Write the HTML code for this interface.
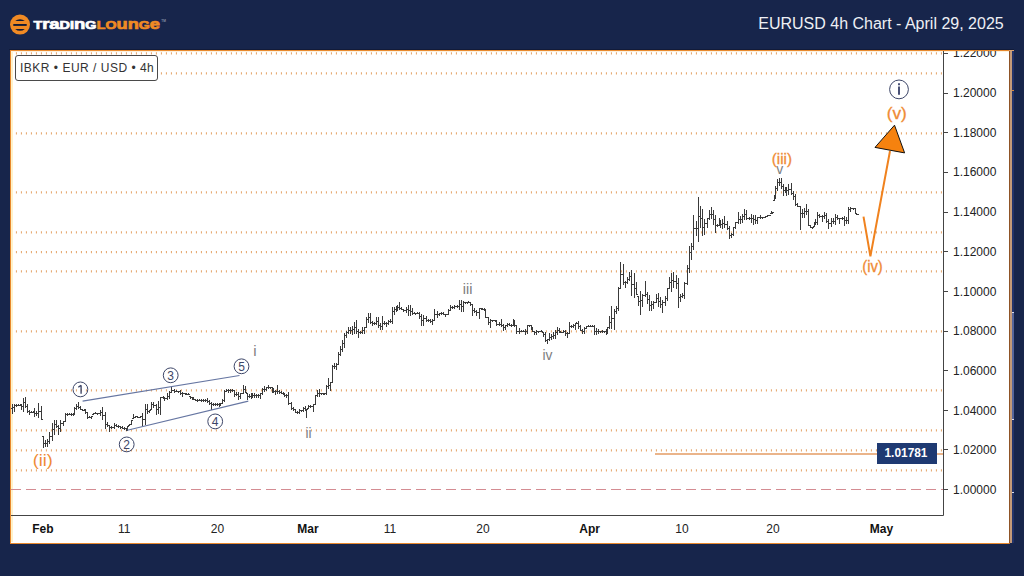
<!DOCTYPE html>
<html><head><meta charset="utf-8">
<style>
html,body{margin:0;padding:0;}
body{width:1024px;height:576px;overflow:hidden;background:#17254b;position:relative;font-family:"Liberation Sans",sans-serif;}
.title{position:absolute;left:0;top:14px;width:1003.7px;text-align:right;color:#eef0f5;font-size:16px;line-height:20px;white-space:nowrap;}
.frame{position:absolute;left:10px;top:50px;width:998px;height:492px;background:#fff;border:1px solid #e8892e;border-right:1.4px solid #8f5326;box-sizing:content-box;}
.rb{position:absolute;left:1010.4px;top:51px;width:1.8px;height:492px;background:#c49a78;}
.rs{position:absolute;left:1012.2px;top:51px;width:1.8px;height:492px;background:#22336a;}
.th{position:absolute;left:1012.2px;top:312.5px;width:1.8px;height:107px;background:#56669c;}
.tk{position:absolute;left:1012px;width:2px;height:1px;background:#dde;}
svg{position:absolute;left:0;top:0;}
.logo{position:absolute;left:33px;top:17px;font-weight:bold;font-size:11px;line-height:12px;white-space:nowrap;letter-spacing:0.2px;}
.lbl{position:absolute;left:15px;top:55px;width:141px;height:24px;border:1px solid #4a4a4a;background:#fff;border-radius:3px;box-sizing:content-box;font-size:12px;line-height:23px;color:#333;white-space:nowrap;}
.lbl span{position:absolute;left:4px;top:1px;letter-spacing:0.5px;}
.ax{position:absolute;left:953px;font-size:12px;color:#222;line-height:14px;white-space:nowrap;}
.xl{position:absolute;top:521.5px;font-size:12px;color:#222;line-height:14px;white-space:nowrap;transform:translateX(-50%);}
.xl.b{font-weight:bold;color:#111;}
.pl{position:absolute;left:877px;top:443px;width:60px;height:21px;background:#1f3a72;color:#fff;font-weight:bold;font-size:11.9px;line-height:20px;text-align:center;box-sizing:border-box;padding-right:2px;}
</style></head><body>
<div style="position:absolute;left:9px;top:49px;width:1005px;height:1px;background:#111b3a"></div><div class="frame"></div><div style="position:absolute;left:11px;top:51px;width:1.5px;height:491px;background:#fff1c8"></div><div style="position:absolute;left:11px;top:51px;width:998px;height:1px;background:#fdf1dc"></div><div class="rb"></div><div class="rs"></div><div class="th"></div><div class="tk" style="top:312px"></div><div class="tk" style="top:419px"></div><div class="tk" style="top:492px"></div><div class="tk" style="top:90px;background:#d88a40"></div><div style="position:absolute;left:1009px;top:50px;width:5px;height:1.2px;background:#d9a070"></div>
<div class="title">EURUSD 4h Chart - April 29, 2025</div>
<svg width="1024" height="576" viewBox="0 0 1024 576">
 <defs><clipPath id="cp"><rect x="11" y="51" width="999" height="491"/></clipPath></defs>
 <!-- logo icon -->
 <circle cx="20" cy="24.6" r="10" fill="#f08a24"/>
 <path d="M15.2 21.1h9.6a7 7 0 0 0-9.6 0z" fill="#131b36"/>
 <rect x="13.3" y="24" width="13.4" height="1.9" fill="#131b36"/>
 <path d="M15.2 28.9h9.6a7 7 0 0 1-9.6 0z" fill="#131b36"/>
 <g font-family="Liberation Sans" font-weight="bold" font-size="11.2">
  <text x="33.4" y="28.8" fill="#fff" stroke="#fff" stroke-width="0.7" textLength="63" lengthAdjust="spacingAndGlyphs">T<tspan font-size="14.4">ra</tspan>DI<tspan font-size="14.4">n</tspan>G</text>
  <text x="96.8" y="28.8" fill="#f08a24" stroke="#f08a24" stroke-width="0.7" textLength="63.2" lengthAdjust="spacingAndGlyphs">LO<tspan font-size="14.4">un</tspan>G<tspan font-size="14.4">e</tspan></text>
  <text x="161.3" y="22.3" fill="#b9bccb" font-size="3.2" font-weight="normal">TM</text>
 </g>
 <g clip-path="url(#cp)">
 <!-- dotted grid -->
 <g class="grid" stroke="#e4a468" stroke-width="2.2" stroke-dasharray="1 4" fill="none">
  <path d="M15.9 53.4H943M15.9 73.4H943M15.9 133.4H943M15.9 192.3H943M15.9 232.3H943M15.9 252.2H943M15.9 271.4H943M15.9 331.3H943M15.9 390.4H943M15.9 430.3H943M15.9 450.3H943M15.9 470.3H943"/>
 </g>
 <path class="grid" d="M11 489.5H943" stroke="#d48c92" stroke-width="1.2" stroke-dasharray="10 5" fill="none"/>
 <!-- axes -->
 <path d="M943.5 50V515.5H11" stroke="#444" stroke-width="1" fill="none"/>
 <path d="M943.5 53.5h4.5M943.5 93.5h4.5M943.5 132.5h4.5M943.5 172.5h4.5M943.5 212.5h4.5M943.5 251.5h4.5M943.5 291.5h4.5M943.5 331.5h4.5M943.5 370.5h4.5M943.5 410.5h4.5M943.5 449.5h4.5M943.5 489.5h4.5" stroke="#444" stroke-width="1"/>
 <!-- support line -->
 <path class="grid" d="M655 454H943" stroke="#eab48a" stroke-width="2"/>
 <!-- bars -->
 <path class="grid" d="M12.5 404V414M11 408.5H12M13 407.5H14M14.5 404V412M13 407.5H14M15 405.5H16M16.5 404V407M15 405.5H16M17 405.5H18M18.5 404V406M17 405.5H18M19 405.5H20M20.5 404V406M19 405.5H20M21 405.5H22M21.5 404V410M20 405.5H21M22 406.5H23M23.5 398V412M22 406.5H23M24 402.5H25M25.5 397V408M24 402.5H25M26 406.5H27M27.5 404V413M26 406.5H27M28 411.5H29M29.5 410V415M28 411.5H29M30 412.5H31M31.5 411V413M30 412.5H31M32 412.5H33M33.5 411V413M32 412.5H33M34 412.5H35M34.5 408V417M33 412.5H34M35 413.5H36M36.5 411V416M35 413.5H36M37 413.5H38M38.5 403V418M37 413.5H38M39 411.5H40M41.5 406V420M40 411.5H41M42 419.5H43M43.5 436V448M42 436.5H43M44 443.5H45M45.5 440V447M44 443.5H45M46 443.5H47M47.5 439V447M46 443.5H47M48 441.5H49M49.5 432V444M48 441.5H49M50 436.5H51M52.5 423V441M51 436.5H52M53 429.5H54M54.5 420V435M53 429.5H54M55 424.5H56M56.5 420V428M55 424.5H56M57 426.5H58M58.5 425V435M57 426.5H58M59 428.5H60M60.5 420V432M59 428.5H60M61 423.5H62M63.5 421V426M62 423.5H63M64 421.5H65M65.5 413V422M64 421.5H65M66 414.5H67M67.5 413V416M66 414.5H67M68 414.5H69M69.5 413V415M68 414.5H69M70 414.5H71M71.5 413V416M70 414.5H71M72 414.5H73M73.5 413V416M72 414.5H73M74 414.5H75M74.5 407V415M73 414.5H74M75 408.5H76M76.5 404V410M75 408.5H76M77 406.5H78M78.5 402V409M77 406.5H78M79 407.5H80M80.5 406V410M79 407.5H80M81 409.5H82M82.5 409V411M81 409.5H82M83 410.5H84M84.5 409V411M83 410.5H84M85 410.5H86M85.5 409V414M84 410.5H85M86 412.5H87M87.5 412V419M86 412.5H87M88 417.5H89M89.5 416V418M88 417.5H89M90 417.5H91M91.5 416V419M90 417.5H91M92 416.5H93M93.5 413V415M92 414.5H93M94 413.5H95M95.5 412V414M94 413.5H95M96 413.5H97M97.5 413V415M96 413.5H97M98 413.5H99M100.5 410V416M99 413.5H100M101 412.5H102M102.5 407V420M101 412.5H102M103 415.5H104M105.5 412V429M104 415.5H105M106 424.5H107M107.5 422V427M106 424.5H107M108 425.5H109M109.5 425V432M108 425.5H109M110 427.5H111M111.5 426V429M110 427.5H111M112 427.5H113M114.5 423V429M113 427.5H114M115 425.5H116M116.5 424V427M115 425.5H116M117 426.5H118M118.5 425V428M117 426.5H118M119 426.5H120M120.5 426V429M119 426.5H120M121 427.5H122M122.5 426V429M121 427.5H122M123 428.5H124M124.5 427V430M123 428.5H124M125 428.5H126M126.5 428V431M125 428.5H126M127 429.5H128M127.5 426V431M126 429.5H127M128 426.5H129M129.5 424V426M128 425.5H129M130 424.5H131M131.5 420V425M130 424.5H131M132 420.5H133M133.5 414V419M132 418.5H133M134 417.5H135M135.5 416V418M134 417.5H135M136 416.5H137M137.5 416V418M136 416.5H137M138 417.5H139M140.5 416V418M139 417.5H140M141 416.5H142M142.5 413V426M141 416.5H142M143 419.5H144M145.5 404V425M144 419.5H145M146 409.5H147M147.5 404V414M146 409.5H147M148 411.5H149M149.5 410V413M148 411.5H149M150 410.5H151M151.5 402V410M150 409.5H151M152 404.5H153M153.5 402V408M152 404.5H153M154 405.5H155M156.5 404V415M155 405.5H156M157 409.5H158M158.5 401V414M157 409.5H158M159 407.5H160M160.5 397V415M159 407.5H160M161 397.5H162M163.5 396V399M162 397.5H163M164 398.5H165M164.5 397V401M163 398.5H164M165 398.5H166M167.5 393V400M166 398.5H167M168 396.5H169M169.5 391V399M168 396.5H169M170 392.5H171M171.5 387V393M170 392.5H171M172 390.5H173M174.5 389V393M173 390.5H174M175 391.5H176M176.5 390V392M175 391.5H176M177 391.5H178M178.5 391V393M177 391.5H178M179 391.5H180M180.5 390V395M179 391.5H180M181 393.5H182M182.5 392V397M181 393.5H182M183 393.5H184M185.5 393V395M184 393.5H185M186 394.5H187M186.5 393V395M185 394.5H186M187 394.5H188M188.5 393V395M187 394.5H188M189 394.5H190M190.5 396V399M189 396.5H190M191 397.5H192M192.5 397V400M191 397.5H192M193 398.5H194M193.5 397V400M192 398.5H193M194 399.5H195M195.5 399V401M194 399.5H195M196 400.5H197M197.5 399V402M196 400.5H197M198 400.5H199M199.5 399V401M198 400.5H199M200 400.5H201M201.5 399V402M200 400.5H201M202 400.5H203M203.5 399V402M202 400.5H203M204 400.5H205M205.5 399V402M204 400.5H205M206 400.5H207M207.5 398V403M206 400.5H207M208 401.5H209M209.5 400V405M208 401.5H209M210 403.5H211M211.5 402V410M210 403.5H211M212 404.5H213M213.5 403V406M212 404.5H213M214 404.5H215M215.5 403V406M214 404.5H215M216 404.5H217M217.5 403V406M216 404.5H217M218 404.5H219M219.5 403V407M218 404.5H219M220 404.5H221M220.5 403V406M219 404.5H220M221 403.5H222M222.5 399V404M221 403.5H222M223 400.5H224M224.5 390V402M223 400.5H224M225 391.5H226M226.5 389V392M225 391.5H226M227 390.5H228M228.5 389V393M227 390.5H228M229 390.5H230M230.5 389V393M229 390.5H230M231 390.5H232M232.5 389V392M231 390.5H232M233 390.5H234M234.5 390V397M233 390.5H234M235 394.5H236M236.5 392V396M235 394.5H236M237 394.5H238M238.5 392V400M237 394.5H238M239 396.5H240M240.5 393V399M239 396.5H240M241 393.5H242M243.5 385V394M242 393.5H243M244 389.5H245M245.5 386V393M244 389.5H245M246 392.5H247M247.5 393V400M246 393.5H247M248 396.5H249M249.5 394V398M248 396.5H249M250 396.5H251M251.5 393V399M250 396.5H251M252 395.5H253M252.5 393V398M251 395.5H252M253 395.5H254M254.5 393V398M253 395.5H254M255 395.5H256M256.5 394V398M255 395.5H256M257 395.5H258M258.5 394V398M257 395.5H258M259 395.5H260M260.5 393V399M259 395.5H260M261 393.5H262M262.5 388V395M261 393.5H262M263 389.5H264M264.5 386V392M263 389.5H264M265 389.5H266M266.5 387V391M265 389.5H266M267 387.5H268M268.5 385V389M267 387.5H268M269 387.5H270M270.5 387V389M269 387.5H270M271 387.5H272M272.5 387V393M271 387.5H272M273 390.5H274M273.5 388V393M272 390.5H273M274 391.5H275M275.5 390V395M274 391.5H275M276 391.5H277M277.5 385V394M276 391.5H277M278 391.5H279M279.5 390V394M278 391.5H279M280 392.5H281M281.5 391V394M280 392.5H281M282 393.5H283M283.5 392V395M282 393.5H283M284 394.5H285M284.5 393V397M283 394.5H284M285 395.5H286M286.5 394V398M285 395.5H286M287 395.5H288M288.5 392V405M287 395.5H288M289 403.5H290M291.5 402V410M290 403.5H291M292 408.5H293M293.5 407V411M292 408.5H293M294 409.5H295M295.5 409V413M294 409.5H295M296 412.5H297M297.5 411V414M296 412.5H297M298 412.5H299M299.5 409V414M298 412.5H299M300 410.5H301M301.5 410V412M300 410.5H301M302 410.5H303M303.5 407V412M302 410.5H303M304 408.5H305M305.5 406V411M304 408.5H305M306 410.5H307M306.5 409V418M305 410.5H306M307 409.5H308M308.5 405V409M307 408.5H308M309 406.5H310M310.5 405V408M309 406.5H310M311 406.5H312M313.5 404V412M312 406.5H313M314 404.5H315M315.5 395V405M314 404.5H315M316 395.5H317M317.5 390V397M316 395.5H317M318 393.5H319M319.5 389V397M318 393.5H319M320 393.5H321M321.5 393V395M320 393.5H321M322 393.5H323M323.5 393V395M322 393.5H323M324 393.5H325M324.5 393V395M323 393.5H324M325 393.5H326M326.5 385V395M325 393.5H326M327 386.5H328M328.5 378V389M327 386.5H328M329 385.5H330M330.5 382V391M329 385.5H330M331 382.5H332M332.5 365V383M331 382.5H332M333 366.5H334M334.5 363V369M333 366.5H334M335 366.5H336M336.5 363V370M335 366.5H336M337 364.5H338M338.5 352V365M337 364.5H338M339 354.5H340M340.5 346V356M339 354.5H340M341 349.5H342M342.5 340V352M341 349.5H342M343 343.5H344M344.5 333V348M343 343.5H344M345 335.5H346M346.5 331V338M345 335.5H346M347 332.5H348M348.5 327V334M347 332.5H348M349 330.5H350M350.5 327V334M349 330.5H350M351 330.5H352M352.5 326V335M351 330.5H352M353 329.5H354M354.5 322V334M353 329.5H354M355 327.5H356M356.5 320V334M355 327.5H356M357 331.5H358M358.5 329V338M357 331.5H358M359 332.5H360M360.5 331V334M359 332.5H360M361 332.5H362M362.5 327V334M361 332.5H362M363 330.5H364M364.5 327V334M363 330.5H364M365 327.5H366M366.5 317V328M365 327.5H366M367 319.5H368M368.5 313V323M367 319.5H368M369 317.5H370M370.5 313V324M369 317.5H370M371 322.5H372M372.5 321V326M371 322.5H372M373 323.5H374M374.5 322V325M373 323.5H374M375 323.5H376M376.5 317V325M375 323.5H376M377 321.5H378M378.5 317V328M377 321.5H378M379 325.5H380M380.5 323V330M379 325.5H380M381 326.5H382M382.5 316V330M381 326.5H382M383 323.5H384M384.5 321V325M383 323.5H384M385 323.5H386M386.5 322V327M385 323.5H386M387 323.5H388M388.5 320V325M387 323.5H388M389 321.5H390M390.5 319V323M389 321.5H390M391 321.5H392M392.5 307V324M391 321.5H392M393 311.5H394M394.5 307V315M393 311.5H394M395 309.5H396M396.5 306V312M395 309.5H396M397 308.5H398M397.5 305V311M396 308.5H397M398 307.5H399M399.5 302V310M398 307.5H399M400 308.5H401M401.5 307V310M400 308.5H401M402 309.5H403M403.5 309V312M402 309.5H403M404 310.5H405M406.5 307V313M405 310.5H406M407 309.5H408M408.5 305V316M407 309.5H408M409 310.5H410M410.5 305V316M409 310.5H410M411 311.5H412M412.5 308V315M411 311.5H412M413 313.5H414M414.5 312V314M413 313.5H414M415 313.5H416M415.5 313V315M414 313.5H415M416 313.5H417M417.5 312V314M416 313.5H417M418 313.5H419M419.5 312V319M418 313.5H419M420 316.5H421M421.5 314V326M420 316.5H421M422 320.5H423M423.5 315V326M422 320.5H423M424 318.5H425M426.5 316V322M425 318.5H426M427 320.5H428M428.5 319V322M427 320.5H428M429 320.5H430M430.5 319V323M429 320.5H430M431 321.5H432M432.5 319V325M431 321.5H432M433 320.5H434M434.5 309V321M433 320.5H434M435 314.5H436M437.5 311V318M436 314.5H437M438 314.5H439M439.5 313V316M438 314.5H439M440 313.5H441M441.5 312V315M440 313.5H441M442 313.5H443M443.5 312V315M442 313.5H443M444 314.5H445M445.5 314V317M444 314.5H445M446 314.5H447M448.5 309V315M447 314.5H448M449 310.5H450M450.5 305V311M449 310.5H450M451 307.5H452M452.5 306V309M451 307.5H452M453 307.5H454M454.5 305V309M453 307.5H454M455 306.5H456M457.5 305V308M456 306.5H457M458 306.5H459M459.5 300V310M458 306.5H459M460 304.5H461M461.5 300V312M460 304.5H461M462 306.5H463M463.5 301V312M462 306.5H463M464 302.5H465M465.5 302V304M464 302.5H465M466 302.5H467M467.5 302V304M466 302.5H467M468 302.5H469M468.5 301V303M467 302.5H468M469 302.5H470M470.5 302V306M469 302.5H470M471 304.5H472M472.5 304V316M471 304.5H472M473 310.5H474M474.5 308V313M473 310.5H474M475 311.5H476M476.5 310V316M475 311.5H476M477 312.5H478M479.5 308V319M478 312.5H479M480 308.5H481M481.5 308V310M480 308.5H481M482 309.5H483M482.5 308V310M481 309.5H482M483 309.5H484M484.5 308V310M483 309.5H484M485 309.5H486M485.5 310V318M484 310.5H485M486 317.5H487M488.5 317V325M487 317.5H488M489 322.5H490M490.5 319V328M489 322.5H490M491 320.5H492M492.5 320V322M491 320.5H492M493 320.5H494M495.5 320V322M494 320.5H495M496 321.5H497M496.5 320V326M495 321.5H496M497 324.5H498M499.5 322V326M498 324.5H499M500 324.5H501M501.5 319V327M500 324.5H501M502 325.5H503M503.5 324V331M502 325.5H503M504 327.5H505M505.5 325V330M504 327.5H505M506 325.5H507M507.5 323V327M506 325.5H507M508 324.5H509M509.5 323V326M508 324.5H509M510 325.5H511M511.5 324V327M510 325.5H511M512 325.5H513M513.5 319V326M512 325.5H513M514 323.5H515M514.5 320V327M513 323.5H514M515 325.5H516M516.5 325V334M515 325.5H516M517 331.5H518M519.5 328V334M518 331.5H519M520 331.5H521M521.5 330V332M520 331.5H521M522 331.5H523M523.5 330V332M522 331.5H523M524 331.5H525M525.5 329V335M524 331.5H525M526 331.5H527M527.5 325V334M526 331.5H527M528 325.5H529M529.5 325V327M528 325.5H529M530 325.5H531M531.5 325V330M530 325.5H531M532 328.5H533M532.5 327V332M531 328.5H532M533 331.5H534M534.5 331V335M533 331.5H534M535 332.5H536M536.5 330V335M535 332.5H536M537 331.5H538M538.5 331V333M537 331.5H538M539 331.5H540M541.5 330V332M540 331.5H541M542 331.5H543M543.5 332V337M542 332.5H543M544 334.5H545M545.5 332V342M544 334.5H545M546 340.5H547M547.5 339V344M546 340.5H547M548 339.5H549M549.5 333V341M548 339.5H549M550 337.5H551M551.5 334V340M550 337.5H551M552 336.5H553M553.5 332V339M552 336.5H553M554 335.5H555M555.5 330V339M554 335.5H555M556 332.5H557M557.5 327V335M556 332.5H557M558 330.5H559M559.5 328V333M558 330.5H559M560 332.5H561M560.5 331V333M559 332.5H560M561 332.5H562M563.5 330V333M562 332.5H563M564 331.5H565M565.5 330V336M564 331.5H565M566 333.5H567M567.5 332V338M566 333.5H567M568 333.5H569M569.5 322V334M568 333.5H569M570 326.5H571M571.5 325V328M570 326.5H571M572 326.5H573M573.5 324V328M572 326.5H573M574 325.5H575M575.5 323V330M574 325.5H575M576 323.5H577M576.5 322V324M575 323.5H576M577 323.5H578M578.5 321V329M577 323.5H578M579 326.5H580M580.5 325V331M579 326.5H580M581 330.5H582M582.5 329V334M581 330.5H582M583 331.5H584M584.5 327V334M583 331.5H584M585 328.5H586M586.5 326V329M585 328.5H586M587 326.5H588M588.5 325V327M587 326.5H588M589 326.5H590M590.5 325V327M589 326.5H590M591 326.5H592M592.5 325V327M591 326.5H592M593 326.5H594M594.5 325V335M593 326.5H594M595 331.5H596M596.5 328V335M595 331.5H596M597 331.5H598M598.5 329V334M597 331.5H598M599 331.5H600M600.5 331V333M599 331.5H600M601 331.5H602M602.5 330V333M601 331.5H602M603 331.5H604M604.5 331V333M603 331.5H604M605 331.5H606M606.5 329V335M605 331.5H606M607 331.5H608M607.5 327V334M606 331.5H607M608 327.5H609M609.5 316V329M608 327.5H609M610 322.5H611M611.5 306V329M610 322.5H611M612 318.5H613M614.5 309V330M613 318.5H614M615 311.5H616M616.5 306V314M615 311.5H616M617 308.5H618M618.5 287V311M617 308.5H618M619 288.5H620M620.5 262V289M619 288.5H620M621 274.5H622M623.5 264V285M622 274.5H623M624 282.5H625M625.5 281V288M624 282.5H625M626 282.5H627M627.5 277V284M626 282.5H627M628 279.5H629M629.5 272V281M628 279.5H629M630 276.5H631M631.5 270V296M630 276.5H631M632 284.5H633M634.5 273V298M633 284.5H634M635 288.5H636M636.5 282V295M635 288.5H636M637 294.5H638M638.5 296V306M637 296.5H638M639 301.5H640M640.5 291V315M639 301.5H640M641 300.5H642M642.5 294V307M641 300.5H642M643 295.5H644M645.5 281V297M644 295.5H645M646 294.5H647M647.5 292V304M646 294.5H647M648 299.5H649M649.5 295V311M648 299.5H649M650 305.5H651M651.5 301V311M650 305.5H651M652 304.5H653M653.5 301V309M652 304.5H653M654 302.5H655M656.5 294V303M655 302.5H656M657 298.5H658M658.5 293V307M657 298.5H658M659 301.5H660M660.5 297V308M659 301.5H660M661 304.5H662M662.5 300V313M661 304.5H662M663 302.5H664M665.5 296V306M664 302.5H665M666 298.5H667M667.5 288V301M666 298.5H667M668 288.5H669M669.5 277V289M668 288.5H669M670 282.5H671M671.5 273V292M670 282.5H671M672 280.5H673M673.5 272V288M672 280.5H673M674 281.5H675M676.5 275V289M675 281.5H676M677 283.5H678M678.5 278V308M677 283.5H678M679 297.5H680M680.5 294V302M679 297.5H680M681 296.5H682M682.5 293V298M681 296.5H682M683 295.5H684M684.5 282V299M683 295.5H684M685 283.5H686M687.5 265V285M686 283.5H687M688 268.5H689M689.5 246V273M688 268.5H689M690 252.5H691M691.5 243V260M690 252.5H691M692 246.5H693M693.5 215V250M692 246.5H693M694 228.5H695M696.5 221V236M695 228.5H696M697 228.5H698M698.5 197V242M697 228.5H698M699 216.5H700M700.5 206V228M699 216.5H700M701 218.5H702M702.5 209V236M701 218.5H702M703 227.5H704M704.5 219V235M703 227.5H704M705 223.5H706M707.5 218V228M706 223.5H707M708 218.5H709M709.5 210V220M708 218.5H709M710 214.5H711M711.5 207V219M710 214.5H711M712 214.5H713M713.5 210V225M712 214.5H713M714 219.5H715M715.5 215V233M714 219.5H715M716 225.5H717M717.5 224V227M716 225.5H717M718 225.5H719M719.5 218V226M718 225.5H719M720 223.5H721M720.5 220V228M719 223.5H720M721 224.5H722M722.5 219V229M721 224.5H722M723 223.5H724M724.5 216V228M723 223.5H724M725 224.5H726M727.5 221V230M726 224.5H727M728 228.5H729M729.5 226V239M728 228.5H729M730 235.5H731M731.5 233V238M730 235.5H731M732 234.5H733M733.5 227V236M732 234.5H733M734 227.5H735M735.5 222V229M734 227.5H735M736 222.5H737M738.5 212V224M737 222.5H738M739 219.5H740M740.5 216V224M739 219.5H740M741 219.5H742M742.5 214V223M741 219.5H742M743 216.5H744M744.5 209V220M743 216.5H744M745 214.5H746M746.5 210V220M745 214.5H746M747 218.5H748M749.5 217V220M748 218.5H749M750 218.5H751M751.5 214V223M750 218.5H751M752 218.5H753M753.5 215V225M752 218.5H753M754 219.5H755M755.5 215V224M754 219.5H755M756 220.5H757M757.5 217V224M756 220.5H757M758 217.5H759M760.5 215V219M759 217.5H760M761 217.5H762M762.5 217V219M761 217.5H762M763 217.5H764M765.5 216V218M764 217.5H765M766 216.5H767M767.5 215V217M766 216.5H767M768 215.5H769M769.5 215V216M768 215.5H769M770 215.5H771M771.5 211V214M770 213.5H771M772 212.5H773M772.5 212V214M771 212.5H772M773 212.5H774M774.5 195V201M773 200.5H774M775 196.5H776M775.5 186V199M774 196.5H775M776 188.5H777M777.5 179V191M776 188.5H777M778 182.5H779M779.5 178V186M778 182.5H779M780 182.5H781M781.5 178V189M780 182.5H781M782 186.5H783M783.5 184V196M782 186.5H783M784 190.5H785M785.5 187V193M784 190.5H785M786 190.5H787M786.5 187V196M785 190.5H786M787 190.5H788M788.5 184V195M787 190.5H788M789 189.5H790M791.5 183V195M790 189.5H791M792 193.5H793M793.5 191V200M792 193.5H793M794 196.5H795M795.5 194V206M794 196.5H795M796 204.5H797M797.5 203V207M796 204.5H797M798 206.5H799M800.5 206V230M799 206.5H800M801 213.5H802M802.5 209V218M801 213.5H802M803 213.5H804M804.5 208V218M803 213.5H804M805 211.5H806M806.5 204V215M805 211.5H806M807 211.5H808M808.5 209V226M807 211.5H808M809 225.5H810M810.5 225V228M809 225.5H810M811 227.5H812M812.5 227V229M811 227.5H812M813 227.5H814M814.5 222V227M813 226.5H814M815 223.5H816M815.5 219V225M814 223.5H815M816 222.5H817M817.5 212V225M816 222.5H817M818 215.5H819M819.5 214V218M818 215.5H819M820 216.5H821M822.5 215V222M821 216.5H822M823 216.5H824M824.5 212V219M823 216.5H824M825 215.5H826M826.5 213V223M825 215.5H826M827 221.5H828M828.5 219V229M827 221.5H828M829 223.5H830M831.5 218V227M830 223.5H831M832 221.5H833M833.5 218V224M832 221.5H833M834 221.5H835M835.5 214V225M834 221.5H835M836 217.5H837M837.5 215V220M836 217.5H837M838 218.5H839M839.5 218V224M838 218.5H839M840 218.5H841M842.5 217V220M841 218.5H842M843 218.5H844M844.5 216V226M843 218.5H844M845 220.5H846M846.5 217V224M845 220.5H846M847 220.5H848M848.5 207V224M847 220.5H848M849 209.5H850M850.5 207V212M849 209.5H850M851 208.5H852M853.5 208V210M852 208.5H853M854 208.5H855M855.5 208V214M854 208.5H855M856 213.5H857M857.5 214V215M856 214.5H857M858 214.5H859" stroke="#3a3a3a" stroke-width="1" fill="none"/>
 <!-- channel lines -->
 <path d="M82.6 401.1L239.5 375.5M127.3 430.2L248.3 401.1" stroke="#6676a2" stroke-width="1.1" fill="none"/>
 <path d="M898 86.4h2v8.4h-2zM898 83.3h2v1.9h-2z" fill="#4a5277"/>
 <path d="M81.1 385.2V393.8M78.3 387.3L81.1 385.2" stroke="#3d4668" stroke-width="1.35" fill="none"/>
 <!-- circles -->
 <g fill="none" stroke="#3d4668" stroke-width="1">
  <circle cx="80.4" cy="389.4" r="7.4"/>
  <circle cx="126.7" cy="444.4" r="7.4"/>
  <circle cx="170.7" cy="375.3" r="7.4"/>
  <circle cx="215.2" cy="421.4" r="7.4"/>
  <circle cx="241.5" cy="366.3" r="7.4"/>
  <circle cx="899" cy="89.4" r="9.4"/>
 </g>
 <g fill="#3d4668" font-family="Liberation Sans" font-size="12" text-anchor="middle">
  <text x="126.7" y="448.7">2</text>
  <text x="170.7" y="379.6">3</text>
  <text x="215.2" y="425.7">4</text>
  <text x="241.5" y="370.6">5</text>
   </g>
 <g fill="#7d7d7d" font-family="Liberation Sans" font-size="15" text-anchor="middle">
  <text x="255" y="355.7">i</text>
  <text x="308.4" y="437.7" textLength="6" lengthAdjust="spacingAndGlyphs">ii</text>
  <text x="467.6" y="293.8" textLength="9.6" lengthAdjust="spacingAndGlyphs">iii</text>
  <text x="547.4" y="359.8" textLength="10" lengthAdjust="spacingAndGlyphs">iv</text>
  <text x="779.7" y="173.6" font-size="14">v</text>
 </g>
 <rect x="862" y="262" width="23" height="14" fill="#fff"/>
 <g fill="#ef8b35" stroke="#ef8b35" stroke-width="0.3" font-family="Liberation Sans" font-size="15" text-anchor="middle">
  <text x="42.8" y="466" font-size="16" stroke-width="0" textLength="20" lengthAdjust="spacingAndGlyphs">(ii)</text>
  <text x="781.9" y="163.5" textLength="20.2" lengthAdjust="spacingAndGlyphs">(iii)</text>
  <text x="872.5" y="271.8" font-size="16" textLength="20.6" lengthAdjust="spacingAndGlyphs">(iv)</text>
  <text x="896.8" y="118.6" font-size="16" textLength="20" lengthAdjust="spacingAndGlyphs">(v)</text>
 </g>
 <!-- projection -->
 <path d="M863.5 216.7L870.4 256.3L890 151" stroke="#f0821e" stroke-width="2" fill="none"/>
 <path d="M894.5 125.2L875 147.4L904.6 152.9Z" fill="#f6820f" stroke="#111" stroke-width="1"/>
 </g>
</svg>
<div class="lbl"><span>IBKR • EUR / USD • 4h</span></div>
<div style="position:absolute;left:940px;top:51px;width:69px;height:20px;overflow:hidden"><div class="ax" style="left:13px;top:-5px">1.22000</div></div>
<div class="ax" style="top:86px">1.20000</div>
<div class="ax" style="top:125.6px">1.18000</div>
<div class="ax" style="top:165.4px">1.16000</div>
<div class="ax" style="top:205.1px">1.14000</div>
<div class="ax" style="top:244.7px">1.12000</div>
<div class="ax" style="top:284.5px">1.10000</div>
<div class="ax" style="top:324.2px">1.08000</div>
<div class="ax" style="top:363.9px">1.06000</div>
<div class="ax" style="top:403.6px">1.04000</div>
<div class="ax" style="top:443.2px">1.02000</div>
<div class="ax" style="top:482.9px">1.00000</div>
<div class="pl">1.01781</div>
<div class="xl b" style="left:42.8px">Feb</div>
<div class="xl" style="left:124.2px">11</div>
<div class="xl" style="left:217.5px">20</div>
<div class="xl b" style="left:308px">Mar</div>
<div class="xl" style="left:390px">11</div>
<div class="xl" style="left:483px">20</div>
<div class="xl b" style="left:589.6px">Apr</div>
<div class="xl" style="left:682px">10</div>
<div class="xl" style="left:773px">20</div>
<div class="xl b" style="left:881.5px">May</div>
</body></html>
